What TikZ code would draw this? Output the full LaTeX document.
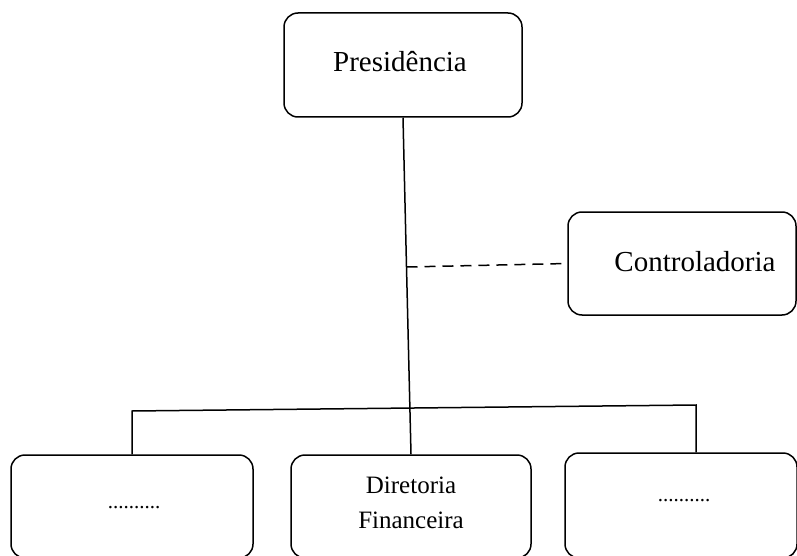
\documentclass[tikz,border=0pt]{standalone}
\usepackage{fontspec}
\setmainfont{Liberation Serif}
\begin{document}
\begin{tikzpicture}[x=1pt,y=-1pt,
  box/.style={draw, rounded corners=14pt, line width=1.5pt, align=center, inner sep=0pt},
  big/.style={font=\fontsize{29}{34}\selectfont},
  mid/.style={align=center, font=\fontsize{25}{35}\selectfont},
  dots/.style={font=\fontsize{21}{25}\selectfont},
  conn/.style={line width=1.5pt}]
\useasboundingbox (0,0) rectangle (797,556);
\node[box, minimum width=238pt, minimum height=104pt] (pres) at (403,65) {};
\node[big] (prest) at (400,62) {Presidência};
\node[box, minimum width=228pt, minimum height=103pt] (ctrl) at (682,263.5) {};
\node[big] (ctrlt) at (695,262) {Controladoria};
\node[box, minimum width=242pt, minimum height=103pt] (left) at (132,506.5) {};
\node[dots] (leftt) at (134,508) {..........};
\node[box, minimum width=240pt, minimum height=103pt] (midb) at (411,506.5) {};
\node[mid] (midt) at (411,503) {Diretoria\\Financeira};
\node[box, minimum width=232pt, minimum height=105pt] (right) at (681,505.5) {};
\node[dots] (rightt) at (684,501) {..........};
\coordinate (J) at (406.5,267);
\coordinate (L) at (132,411);
\coordinate (R) at (696,405);
\draw[conn] (pres.south) -- (J) -- (midb.north);
\draw[conn, dashed, dash pattern=on 11pt off 7pt] (J) -- (ctrl.west);
\draw[conn] (left.north) -- (L) -- (R) -- (right.north -| R);
\end{tikzpicture}
\end{document}
